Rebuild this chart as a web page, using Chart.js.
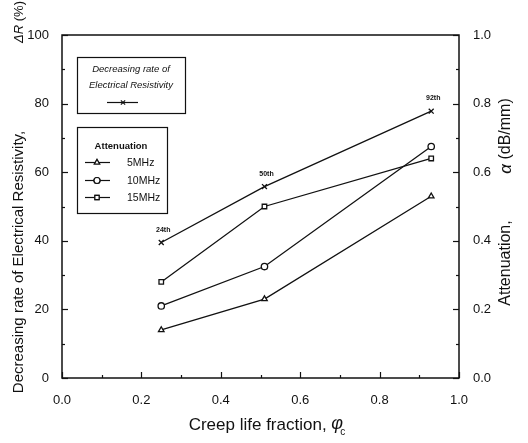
<!DOCTYPE html>
<html>
<head>
<meta charset="utf-8">
<script src="https://cdn.jsdelivr.net/npm/chart.js@4/dist/chart.umd.min.js"></script>
<style>
  html, body { margin: 0; padding: 0; background: #fff; }
</style>
</head>
<body>
<canvas id="chart" width="528" height="443"></canvas>
<script>
// creep life fraction of the three specimens
const lifeFraction = [0.25, 0.51, 0.93];
const hourLabels = ["24th", "50th", "92th"];

// decreasing rate of electrical resistivity, %
const resistivityDrop = [39.5, 55.8, 77.8];

// attenuation, dB/mm
const att5MHz = [0.14, 0.23, 0.53];
const att10MHz = [0.21, 0.325, 0.675];
const att15MHz = [0.28, 0.50, 0.64];

const FONT = "'Liberation Sans', Arial, sans-serif";
const INK = "#111";

const pts = ys => lifeFraction.map((x, i) => ({ x, y: ys[i] }));

function series(label, ys, style, axis) {
  return {
    label,
    data: pts(ys),
    yAxisID: axis,
    showLine: true,
    borderColor: INK,
    borderWidth: 1.3,
    backgroundColor: "#fff",
    pointStyle: style,
    pointRadius: style === "crossRot" ? 3.5 : 3.2,
    pointBorderWidth: 1.3,
    pointBackgroundColor: "#fff",
    pointBorderColor: INK
  };
}

function inwardTicks(ctx, scale, step, major, horizontal, side) {
  const area = scale.chart.chartArea;
  const n = Math.round((scale.max - scale.min) / step);
  for (let i = 0; i <= n; i++) {
    const v = scale.min + i * step;
    const p = Math.round(scale.getPixelForValue(v)) + 0.5;
    const len = (i % major === 0) ? 6 : 3;
    ctx.beginPath();
    if (horizontal) {
      ctx.moveTo(p, area.bottom);
      ctx.lineTo(p, area.bottom - len);
    } else if (side === "left") {
      ctx.moveTo(area.left, p);
      ctx.lineTo(area.left + len, p);
    } else {
      ctx.moveTo(area.right, p);
      ctx.lineTo(area.right - len, p);
    }
    ctx.stroke();
  }
}

const decor = {
  id: "decor",
  afterDraw(chart) {
    const ctx = chart.ctx;
    const a = chart.chartArea;
    ctx.save();
    ctx.strokeStyle = INK;
    ctx.fillStyle = INK;

    // frame
    ctx.lineWidth = 1.5;
    ctx.strokeRect(a.left, a.top, a.right - a.left, a.bottom - a.top);

    // inward ticks
    ctx.lineWidth = 1.2;
    inwardTicks(ctx, chart.scales.x, 0.1, 2, true);
    inwardTicks(ctx, chart.scales.y, 10, 2, false, "left");
    inwardTicks(ctx, chart.scales.y1, 0.1, 2, false, "right");

    // hour labels above the resistivity points
    const meta = chart.getDatasetMeta(0);
    ctx.font = "bold 7px " + FONT;
    ctx.textAlign = "center";
    ctx.textBaseline = "alphabetic";
    meta.data.forEach((el, i) => {
      ctx.fillText(hourLabels[i], el.x + 2, el.y - 11);
    });

    // axis titles
    ctx.font = "15px " + FONT;
    ctx.textAlign = "center";
    ctx.textBaseline = "middle";
    ctx.save();
    ctx.translate(19, 262);
    ctx.rotate(-Math.PI / 2);
    ctx.fillText("Decreasing rate of Electrical Resistivity,", 0, 0);
    ctx.restore();

    ctx.save();
    ctx.translate(19, 22);
    ctx.rotate(-Math.PI / 2);
    ctx.font = "italic 13px " + FONT;
    const w1 = ctx.measureText("ΔR").width;
    ctx.font = "13px " + FONT;
    const w2 = ctx.measureText(" (%)").width;
    ctx.textAlign = "left";
    ctx.font = "italic 13px " + FONT;
    ctx.fillText("ΔR", -(w1 + w2) / 2, 0);
    ctx.font = "13px " + FONT;
    ctx.fillText(" (%)", -(w1 + w2) / 2 + w1, 0);
    ctx.restore();

    ctx.save();
    ctx.translate(506, 263);
    ctx.rotate(-Math.PI / 2);
    ctx.textAlign = "center";
    ctx.font = "16px " + FONT;
    ctx.fillText("Attenuation,", 0, 0);
    ctx.restore();

    ctx.save();
    ctx.translate(506, 136);
    ctx.rotate(-Math.PI / 2);
    ctx.font = "italic 17px " + FONT;
    const wa = ctx.measureText("α").width;
    ctx.font = "16px " + FONT;
    const wb = ctx.measureText(" (dB/mm)").width;
    ctx.textAlign = "left";
    ctx.font = "italic 17px " + FONT;
    ctx.fillText("α", -(wa + wb) / 2, 0);
    ctx.font = "16px " + FONT;
    ctx.fillText(" (dB/mm)", -(wa + wb) / 2 + wa, 0);
    ctx.restore();

    // x title
    ctx.font = "17px " + FONT;
    ctx.textAlign = "left";
    const xt = "Creep life fraction, ";
    const wx = ctx.measureText(xt).width;
    const x0 = 268 - (wx + 16) / 2;
    ctx.fillText(xt, x0, 425);
    ctx.font = "italic 18px " + FONT;
    ctx.fillText("φ", x0 + wx, 424);
    ctx.font = "10px " + FONT;
    ctx.fillText("c", x0 + wx + 9, 432);

    // legend box 1
    ctx.lineWidth = 1.2;
    ctx.strokeRect(77.5, 57.5, 108, 56);
    ctx.font = "italic 9.5px " + FONT;
    ctx.textAlign = "center";
    ctx.fillText("Decreasing rate of", 131, 69);
    ctx.fillText("Electrical Resistivity", 131, 85);
    ctx.beginPath();
    ctx.moveTo(107, 102.5);
    ctx.lineTo(138, 102.5);
    ctx.stroke();
    Chart.helpers.drawPoint(ctx, { pointStyle: "crossRot", radius: 3, borderWidth: 1.2 }, 123, 102.5);

    // legend box 2
    ctx.strokeRect(77.5, 127.5, 90, 86);
    ctx.font = "bold 9.5px " + FONT;
    ctx.fillText("Attenuation", 121, 146);
    const rows = [["triangle", "5MHz", 162], ["circle", "10MHz", 180], ["rect", "15MHz", 197]];
    ctx.font = "10.5px " + FONT;
    rows.forEach(([style, txt, y]) => {
      ctx.beginPath();
      ctx.moveTo(85, y + 0.5);
      ctx.lineTo(110, y + 0.5);
      ctx.stroke();
      ctx.fillStyle = "#fff";
      Chart.helpers.drawPoint(ctx, { pointStyle: style, radius: 3, borderWidth: 1.2 }, 97, y + 0.5);
      ctx.fill();
      ctx.stroke();
      ctx.fillStyle = INK;
      ctx.textAlign = "left";
      ctx.fillText(txt, 127, y + 1);
    });

    ctx.restore();
  }
};

new Chart(document.getElementById("chart"), {
  type: "scatter",
  data: {
    datasets: [
      series("Decreasing rate of Electrical Resistivity", resistivityDrop, "crossRot", "y"),
      series("5MHz", att5MHz, "triangle", "y1"),
      series("10MHz", att10MHz, "circle", "y1"),
      series("15MHz", att15MHz, "rect", "y1")
    ]
  },
  options: {
    responsive: false,
    animation: false,
    layout: { padding: { top: 35, left: 0, right: 0, bottom: 0 } },
    plugins: {
      legend: { display: false },
      tooltip: { enabled: false }
    },
    scales: {
      x: {
        type: "linear",
        min: 0, max: 1,
        grid: { display: false },
        border: { display: false },
        ticks: {
          stepSize: 0.2, padding: 7, color: INK,
          font: { family: FONT, size: 13 },
          callback: v => v.toFixed(1)
        },
        afterFit: s => { s.height = 65; }
      },
      y: {
        position: "left",
        min: 0, max: 100,
        grid: { display: false },
        border: { display: false },
        ticks: {
          stepSize: 20, padding: 5, color: INK,
          font: { family: FONT, size: 13 }
        },
        afterFit: s => { s.width = 62; }
      },
      y1: {
        position: "right",
        min: 0, max: 1,
        grid: { display: false },
        border: { display: false },
        ticks: {
          stepSize: 0.2, padding: 6, color: INK,
          font: { family: FONT, size: 13 },
          callback: v => v.toFixed(1)
        },
        afterFit: s => { s.width = 69; }
      }
    }
  },
  plugins: [decor]
});
</script>
</body>
</html>
